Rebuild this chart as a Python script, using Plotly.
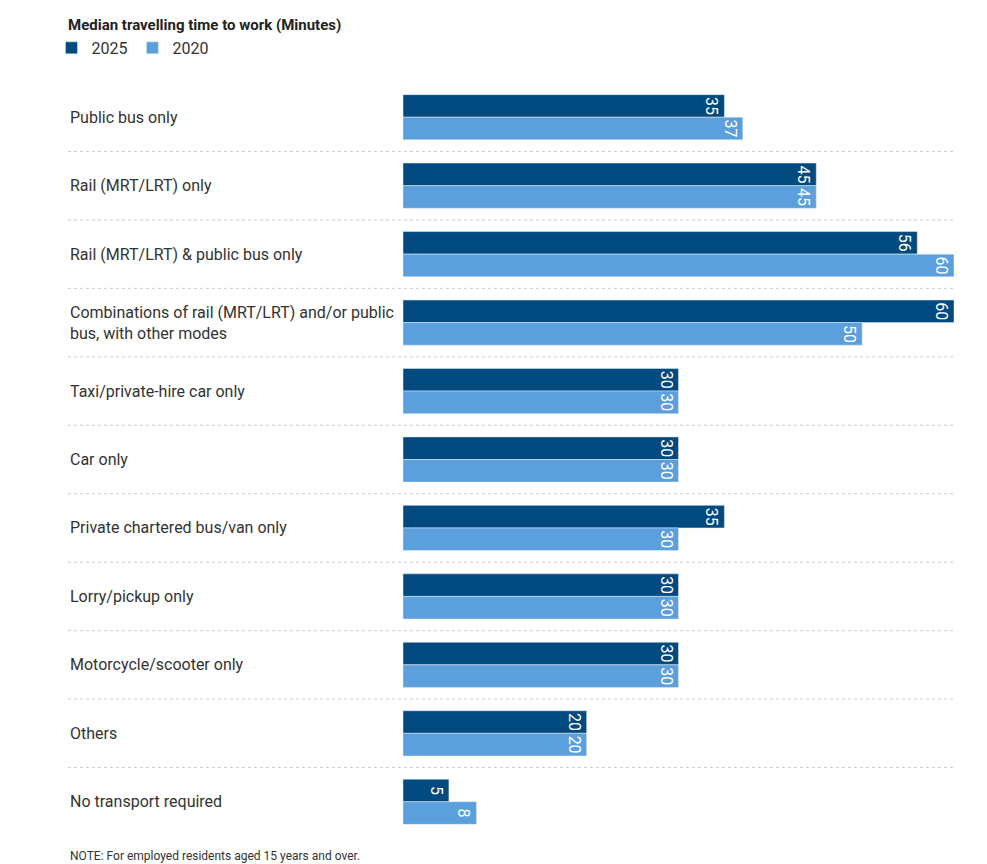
import plotly.graph_objects as go

categories = [
    "Public bus only",
    "Rail (MRT/LRT) only",
    "Rail (MRT/LRT) & public bus only",
    "Combinations of rail (MRT/LRT) and/or public<br>bus, with other modes",
    "Taxi/private-hire car only",
    "Car only",
    "Private chartered bus/van only",
    "Lorry/pickup only",
    "Motorcycle/scooter only",
    "Others",
    "No transport required",
]
values_2025 = [35, 45, 56, 60, 30, 30, 35, 30, 30, 20, 5]
values_2020 = [37, 45, 60, 50, 30, 30, 30, 30, 30, 20, 8]

W, H = 987, 864
L, R, T, B = 395, 41, 75, 36
plot_w = W - L - R
label_x = (60 - L) / plot_w

fig = go.Figure()
for name, vals, color in [("2025", values_2025, "#004a80"), ("2020", values_2020, "#5b9fdc")]:
    fig.add_trace(go.Bar(
        y=list(range(len(categories))), x=vals, orientation="h", name=name,
        marker_color=color, text=[str(v) for v in vals], textposition="inside",
        insidetextanchor="end", constraintext="none",
        textfont=dict(color="white", size=16),
    ))

for i, c in enumerate(categories):
    fig.add_annotation(x=label_x, y=i, xref="paper", yref="y", text=c, showarrow=False,
                       xanchor="left", align="left", font=dict(size=16, color="#333"))
for i in range(len(categories) - 1):
    fig.add_shape(type="line", xref="paper", yref="y", x0=label_x, x1=1, y0=i + 0.5, y1=i + 0.5,
                  line=dict(color="#cccccc", width=1, dash="dot"))

fig.add_annotation(x=60 / W, y=848, xref="paper", yref="paper", text="", showarrow=False)
fig.add_annotation(x=label_x, y=-(848 - (H - B)) / (H - T - B), xref="paper", yref="paper",
                   text="NOTE: For employed residents aged 15 years and over.", showarrow=False,
                   xanchor="left", yanchor="middle", font=dict(size=12, color="#333"))
fig.add_shape(type="line", xref="paper", yref="paper", x0=-L / plot_w, x1=(W - L) / plot_w,
              y0=-(858 - (H - B)) / (H - T - B), y1=-(858 - (H - B)) / (H - T - B),
              line=dict(color="#333", width=1.5))

fig.update_layout(
    width=W, height=H, margin=dict(l=L, r=R, t=T, b=B),
    paper_bgcolor="white", plot_bgcolor="white",
    font=dict(family="Roboto, sans-serif", color="#333"),
    barmode="group", bargap=0.34, bargroupgap=0.0,
    title=dict(text="<b>Median travelling time to work (Minutes)</b>", x=60 / W, xanchor="left",
               y=1 - 17 / H, yanchor="middle", font=dict(size=15, color="#222")),
    legend=dict(orientation="h", x=label_x - 0.03, xanchor="left", y=1 + (75 - 55) / (H - T - B) + 0.02,
                yanchor="middle", font=dict(size=16), itemwidth=30, traceorder="normal"),
    showlegend=True,
)
fig.update_xaxes(range=[0, 60], visible=False)
fig.update_yaxes(range=[len(categories) - 0.5, -0.5], visible=False)
fig.write_html("out.html")
